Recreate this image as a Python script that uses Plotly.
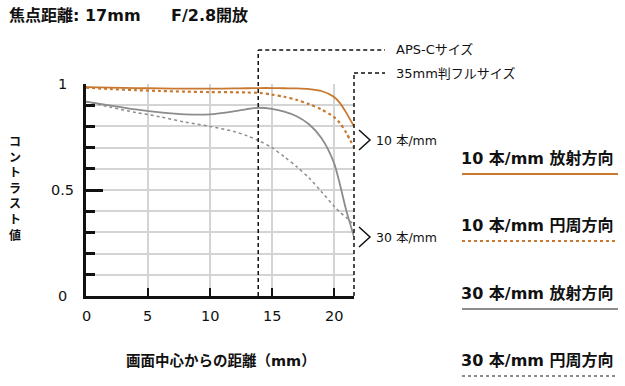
import plotly.graph_objects as go

# ---------------- data ----------------
X_MM = [0, 2, 4, 6, 8, 10, 12, 13, 14, 15, 16, 17, 18, 19, 20, 20.5, 21, 21.63]
R10 = [0.985, 0.983, 0.981, 0.979, 0.978, 0.978, 0.979, 0.980, 0.981, 0.981, 0.980, 0.979, 0.976, 0.967, 0.940, 0.910, 0.865, 0.800]
T10 = [0.983, 0.976, 0.971, 0.967, 0.964, 0.962, 0.961, 0.960, 0.958, 0.950, 0.940, 0.925, 0.905, 0.880, 0.845, 0.815, 0.770, 0.700]
R30 = [0.917, 0.898, 0.880, 0.866, 0.857, 0.857, 0.872, 0.882, 0.888, 0.883, 0.870, 0.848, 0.810, 0.745, 0.630, 0.525, 0.405, 0.280]
T30 = [0.917, 0.890, 0.866, 0.845, 0.820, 0.800, 0.775, 0.756, 0.731, 0.700, 0.657, 0.610, 0.557, 0.492, 0.425, 0.395, 0.370, 0.335]

SERIES_LABELS = ["10 本/mm 放射方向", "10 本/mm 円周方向", "30 本/mm 放射方向", "30 本/mm 円周方向"]
X_TICKS = [0, 5, 10, 15, 20]
Y_TICKS = [0, 0.5, 1]
Y_TICK_TEXT = ["0", "0.5", "1"]
APSC_X = 13.9
FF_X = 21.63
TITLE_LEFT = "焦点距離: 17mm"
TITLE_RIGHT = "F/2.8開放"
Y_TITLE = "コントラスト値"
X_TITLE = "画面中心からの距離（mm）"

ORANGE = "#c8782f"
GRAY = "#8c8c8c"
FONT = "DejaVu Sans, Noto Sans CJK JP"
TXT = "#111111"

W, H = 625, 386
ML, MR, MT, MB = 86, 271, 84, 90
PW, PH = W - ML - MR, H - MT - MB


def px(x):
    return (x - ML) / PW


def py(y):
    return (H - MB - y) / PH


styles = [
    dict(color=ORANGE, width=1.8, dash="solid"),
    dict(color=ORANGE, width=2.2, dash="dot"),
    dict(color=GRAY, width=1.8, dash="solid"),
    dict(color=GRAY, width=1.5, dash="dot"),
]
series = [R10, T10, R30, T30]

fig = go.Figure()
for ys, st, name in zip(series, styles, SERIES_LABELS):
    fig.add_trace(go.Scatter(x=X_MM, y=ys, mode="lines", name=name,
                             line=dict(shape="spline", smoothing=0.8, **st),
                             showlegend=False, hoverinfo="skip"))

shapes = []
annotations = []

# dashed format lines
for xv, top_px, label in [(APSC_X, 50, "APS-Cサイズ"), (FF_X, 73, "35mm判フルサイズ")]:
    xp = xv / FF_X
    yt = py(top_px)
    shapes.append(dict(type="line", xref="paper", yref="paper", x0=xp, x1=xp, y0=0, y1=yt,
                       line=dict(color="#111111", width=1.5, dash="4px,3px")))
    shapes.append(dict(type="line", xref="paper", yref="paper", x0=xp, x1=px(385), y0=yt, y1=yt,
                       line=dict(color="#111111", width=1.5, dash="4px,3px")))
    annotations.append(dict(text=label, xref="paper", yref="paper", x=px(394), y=yt,
                            xanchor="left", yanchor="middle", showarrow=False,
                            font=dict(family=FONT, size=13, color=TXT)))

# chevrons with frequency labels
for cy, label in [(140, "10 本/mm"), (237, "30 本/mm")]:
    shapes.append(dict(type="path", xref="paper", yref="paper",
                       path=f"M {px(359)},{py(cy-10)} L {px(370)},{py(cy)} L {px(359)},{py(cy+10)}",
                       line=dict(color="#111111", width=1.5)))
    annotations.append(dict(text=label, xref="paper", yref="paper", x=px(374), y=py(cy),
                            xanchor="left", yanchor="middle", showarrow=False,
                            font=dict(family=FONT, size=12.5, color=TXT)))

# legend (custom)
leg_text_y = [158, 225, 293, 360]
leg_line_y = [174, 241, 309, 376]
for lab, st, ty, ly in zip(SERIES_LABELS, styles, leg_text_y, leg_line_y):
    annotations.append(dict(text=lab, xref="paper", yref="paper", x=px(616), y=py(ty),
                            xanchor="right", yanchor="middle", showarrow=False,
                            font=dict(family=FONT, size=16, color=TXT, weight=700)))
    shapes.append(dict(type="line", xref="paper", yref="paper", x0=px(462), x1=px(618),
                       y0=py(ly), y1=py(ly), line=dict(color=st["color"], width=2, dash=st["dash"])))

# y tick labels
for v, t in zip(Y_TICKS, Y_TICK_TEXT):
    annotations.append(dict(text=t, xref="paper", yref="y", x=px(62), y=v,
                            xanchor="center", yanchor="middle", showarrow=False,
                            font=dict(family=FONT, size=14.5, color=TXT)))
# x tick labels
for v in X_TICKS:
    annotations.append(dict(text=str(v), xref="x", yref="paper", x=v, y=py(316),
                            xanchor="center", yanchor="middle", showarrow=False,
                            font=dict(family=FONT, size=14.5, color=TXT)))

# titles
annotations.append(dict(text=TITLE_LEFT, xref="paper", yref="paper", x=px(7), y=py(15),
                        xanchor="left", yanchor="middle", showarrow=False,
                        font=dict(family=FONT, size=16, color=TXT, weight=700)))
annotations.append(dict(text=TITLE_RIGHT, xref="paper", yref="paper", x=px(169), y=py(15),
                        xanchor="left", yanchor="middle", showarrow=False,
                        font=dict(family=FONT, size=16, color=TXT, weight=700)))
annotations.append(dict(text="<br>".join(list(Y_TITLE)), xref="paper", yref="paper",
                        x=px(15), y=py(189), xanchor="center", yanchor="middle",
                        showarrow=False, align="center",
                        font=dict(family=FONT, size=12, color=TXT, weight=700)))
annotations.append(dict(text=X_TITLE, xref="paper", yref="paper", x=px(221), y=py(360),
                        xanchor="center", yanchor="middle", showarrow=False,
                        font=dict(family=FONT, size=14.5, color=TXT, weight=700)))

fig.update_layout(
    width=W, height=H,
    margin=dict(l=ML, r=MR, t=MT, b=MB, pad=0),
    paper_bgcolor="white", plot_bgcolor="white",
    shapes=shapes, annotations=annotations,
    xaxis=dict(range=[0, FF_X], tickvals=X_TICKS[1:], ticks="inside", ticklen=8, tickwidth=2,
               tickcolor="#111111", showticklabels=False, showgrid=True, gridcolor="#d4d4d4",
               gridwidth=1.5, showline=True, linecolor="#111111", linewidth=2.5, zeroline=False),
    yaxis=dict(range=[0, 1], dtick=0.5, tick0=0, ticks="inside", ticklen=17, tickwidth=3,
               tickcolor="#111111", showticklabels=False, showgrid=True, gridcolor="#d4d4d4",
               gridwidth=1.5, showline=True, linecolor="#111111", linewidth=3, zeroline=False,
               minor=dict(dtick=0.1, tick0=0, ticks="inside", ticklen=9, tickwidth=3,
                          tickcolor="#111111", showgrid=True, gridcolor="#d4d4d4", gridwidth=1.5)),
)

fig.write_html("out.html")
